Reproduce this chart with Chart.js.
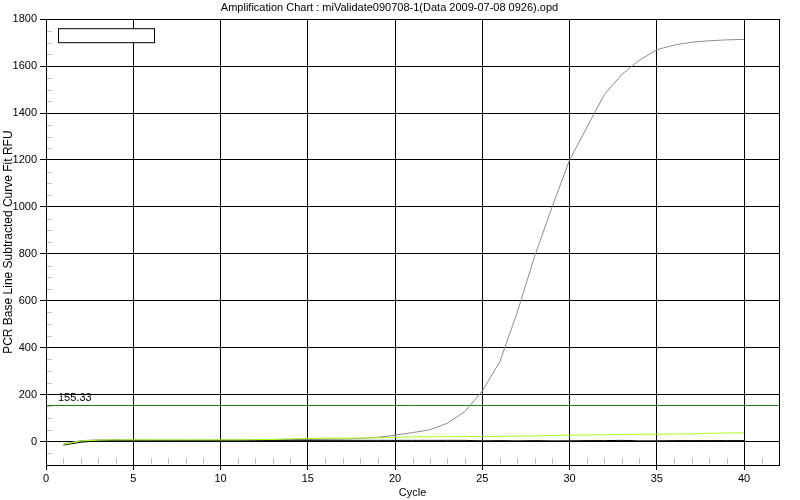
<!DOCTYPE html>
<html>
<head>
<meta charset="utf-8">
<title>Amplification Chart</title>
<script src="https://cdn.jsdelivr.net/npm/chart.js@4"></script>
<style>
  html, body { margin: 0; padding: 0; background: #fff; }
  canvas { display: block; }
</style>
</head>
<body>
<canvas id="chart" width="800" height="500"></canvas>
<script>
// ===============================
// Data
// ===============================
const cycles = [1, 2, 3, 4, 5, 6, 7, 8, 9, 10, 11, 12, 13, 14, 15, 16, 17, 18, 19, 20,
  21, 22, 23, 24, 25, 26, 27, 28, 29, 30, 31, 32, 33, 34, 35, 36, 37, 38, 39, 40];

const sampleRfu = [-10, 4, 7, 7, 6, 5, 5, 5, 5, 6, 6, 7, 7, 8, 9, 10, 11, 13, 18, 27,
  38, 50, 78, 128, 215, 340, 550, 790, 1000, 1200, 1340, 1480, 1565, 1625, 1670, 1690, 1702, 1708, 1712, 1714];

const greenRfu = [-12, 2, 6, 7, 7, 7, 7, 7, 7, 7, 7, 8, 9, 12, 13, 14, 14, 15, 16, 17,
  20, 20, 21, 21, 22, 22, 23, 24, 26, 27, 28, 29, 30, 31, 31, 32, 33, 35, 36, 37];

const blackRfu = [-15, -3, 3, 5, 5, 5, 5, 5, 5, 5, 5, 5, 5, 5, 5, 5, 5, 5, 5, 5,
  5, 5, 5, 5, 3, 4, 3, 4, 3, 3, 4, 4, 5, 3, 3, 4, 4, 4, 4, 4];

const threshold = 155.33;

const xTicks = [0, 5, 10, 15, 20, 25, 30, 35, 40];
const yTicks = [0, 200, 400, 600, 800, 1000, 1200, 1400, 1600, 1800];
const xRange = [0, 42];
const yRange = [-100, 1800];

const FONT = "Arial, 'Liberation Sans', sans-serif";

const toPoints = (ys) => ys.map((y, i) => ({ x: cycles[i], y: y }));

// ===============================
// Extra drawing: frame, minor ticks, threshold, empty legend box
// ===============================
const decorations = {
  id: "decorations",
  beforeDatasetsDraw(chart) {
    const { ctx, chartArea: a, scales } = chart;
    ctx.save();
    ctx.strokeStyle = "#c0c0c0";
    ctx.lineWidth = 1;
    // y minor ticks every 50
    for (let v = yRange[0] + 50; v < yRange[1]; v += 50) {
      if (v % 200 === 0) continue;
      const y = Math.round(scales.y.getPixelForValue(v)) + 0.5;
      ctx.beginPath();
      ctx.moveTo(a.left + 1, y);
      ctx.lineTo(a.left + 6, y);
      ctx.stroke();
    }
    // x minor ticks every cycle
    for (let v = 1; v < xRange[1]; v++) {
      if (v % 5 === 0) continue;
      const x = Math.round(scales.x.getPixelForValue(v)) + 0.5;
      ctx.beginPath();
      ctx.moveTo(x, a.bottom - 1);
      ctx.lineTo(x, a.bottom - 7);
      ctx.stroke();
    }
    // threshold line
    const ty = Math.floor(scales.y.getPixelForValue(threshold)) + 0.5;
    ctx.strokeStyle = "#268026";
    ctx.beginPath();
    ctx.moveTo(a.left, ty);
    ctx.lineTo(a.right, ty);
    ctx.stroke();
    ctx.restore();
  },
  afterDraw(chart) {
    const { ctx, chartArea: a, scales } = chart;
    ctx.save();
    // plot frame
    ctx.strokeStyle = "#000";
    ctx.lineWidth = 1;
    ctx.strokeRect(Math.round(a.left) + 0.5, Math.round(a.top) + 0.5,
      Math.round(a.right - a.left), Math.round(a.bottom - a.top));
    // threshold label
    ctx.fillStyle = "#000";
    ctx.font = "11px " + FONT;
    ctx.textBaseline = "alphabetic";
    ctx.fillText(threshold.toFixed(2), a.left + 12, scales.y.getPixelForValue(threshold) - 4);
    // empty legend box
    ctx.fillStyle = "#fff";
    ctx.fillRect(a.left + 12.5, a.top + 9.5, 96, 14);
    ctx.strokeRect(a.left + 12.5, a.top + 9.5, 96, 14);
    ctx.restore();
  }
};

// ===============================
// Chart
// ===============================
const lineStyle = { borderWidth: 1, pointRadius: 0, tension: 0, fill: false };

new Chart(document.getElementById("chart"), {
  type: "line",
  data: {
    datasets: [
      Object.assign({ label: "Green", data: toPoints(greenRfu), borderColor: "#a6ff1a" }, lineStyle),
      Object.assign({ label: "Black", data: toPoints(blackRfu), borderColor: "#000000" }, lineStyle),
      Object.assign({ label: "Sample", data: toPoints(sampleRfu), borderColor: "#8c8c8c" }, lineStyle)
    ]
  },
  options: {
    responsive: false,
    animation: false,
    devicePixelRatio: 1,
    layout: { padding: { left: 0, right: 21, top: 0, bottom: 0 } },
    plugins: {
      legend: { display: false },
      tooltip: { enabled: false },
      title: {
        display: true,
        text: "Amplification Chart : miValidate090708-1(Data 2009-07-08 0926).opd",
        color: "#000",
        font: { family: FONT, size: 11, weight: "normal" },
        padding: { top: 1, bottom: 5 }
      }
    },
    scales: {
      x: {
        type: "linear",
        min: xRange[0],
        max: xRange[1],
        afterBuildTicks: (scale) => { scale.ticks = xTicks.map(v => ({ value: v })); },
        afterFit: (scale) => { scale.height = 35; },
        grid: { color: "#000", lineWidth: 1, tickLength: 5 },
        border: { color: "#000", width: 1 },
        ticks: { color: "#000", font: { family: FONT, size: 11 }, padding: 2, maxRotation: 0,
          callback: (v) => String(v) },
        title: {
          display: true,
          text: "Cycle",
          color: "#000",
          font: { family: FONT, size: 11 },
          padding: { top: 0, bottom: 0 }
        }
      },
      y: {
        type: "linear",
        min: yRange[0],
        max: yRange[1],
        afterBuildTicks: (scale) => { scale.ticks = yTicks.map(v => ({ value: v })); },
        afterFit: (scale) => { scale.width = 46; },
        grid: { color: "#000", lineWidth: 1, tickLength: 6 },
        border: { color: "#000", width: 1 },
        ticks: { color: "#000", font: { family: FONT, size: 11 }, padding: 3,
          callback: (v) => String(v) },
        title: {
          display: true,
          text: "PCR Base Line Subtracted Curve Fit RFU",
          color: "#000",
          font: { family: FONT, size: 12 },
          padding: { top: 1, bottom: 0 }
        }
      }
    }
  },
  plugins: [decorations]
});
</script>
</body>
</html>
